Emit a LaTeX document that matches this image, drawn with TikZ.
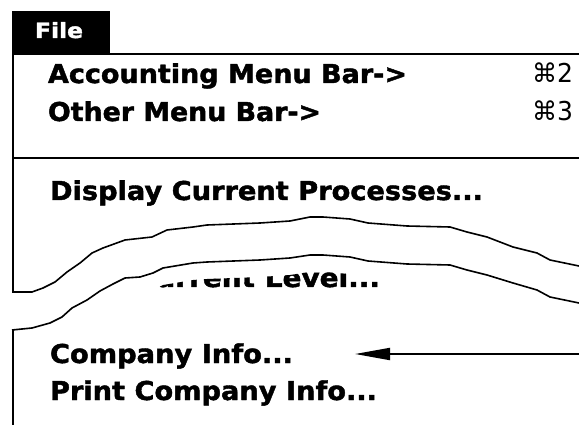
\documentclass[tikz,border=0pt]{standalone}
\usepackage{fontspec}
\usepackage{graphicx}
\setmainfont{DejaVu Sans}
\newfontfamily\menufont{DejaVu Sans Bold}[FakeBold=1.6]
\usetikzlibrary{arrows.meta}

% menu item text, set to a given width on its baseline
\newcommand\menuitem[2]{\resizebox{#1pt}{\height}{\fontsize{26}{26}\menufont #2}}
\newcommand\keyitem[2]{\resizebox{#1pt}{\height}{\fontsize{26}{26}\selectfont #2}}

\begin{document}
\begin{tikzpicture}[x=1pt,y=-1pt,
  item/.style={anchor=base west,inner sep=0pt,outer sep=0pt},
  rule/.style={line width=2pt},
  tear/.style={line width=1.6pt,line join=round}]
\useasboundingbox (0,0) rectangle (579,425);

% title tab
\fill (12,11) rectangle (110,54);
\node[item,text=white] (file) at (35,38)
  {\resizebox{48pt}{\height}{\fontsize{21}{21}\menufont File}};

% menu frame and separator
\draw[rule] (12,54) -- (579,54);
\draw[rule] (13,54) -- (13,293);
\draw[rule] (13,329) -- (13,425);
\draw[rule] (14,158) -- (579,158);

% items
\node[item] (acct) at (48,83) {\menuitem{359}{Accounting Menu Bar->}};
\node[item] (acctkey) at (532,83) {\keyitem{41}{⌘2}};
\node[item] (other) at (48,121) {\menuitem{273}{Other Menu Bar->}};
\node[item] (otherkey) at (532,121) {\keyitem{41}{⌘3}};
\node[item] (display) at (50,200) {\menuitem{433}{Display Current Processes...}};

% item partly hidden below the tear
\begin{scope}
  \clip (13,347) -- (32,345) -- (50,340) -- (62,334) -- (72,325) -- (87,317)
    -- (100,308) -- (113,301) -- (125,295) -- (140,294) -- (153,290) -- (163,285)
    -- (193,280) -- (207,279) -- (260,277) -- (290,275) -- (310,272) -- (323,272)
    -- (350,274) -- (368,278) -- (407,281) -- (450,282) -- (467,287) -- (487,292)
    -- (513,300) -- (537,307) -- (550,314) -- (579,320) -- (579,425) -- (13,425) -- cycle;
  \node[item] (level) at (135,287) {\menuitem{245}{Current Level...}};
\end{scope}

\node[item] (company) at (50,363) {\menuitem{243}{Company Info...}};
\node[item] (print) at (50,400) {\menuitem{327}{Print Company Info...}};

% torn edges
\draw[tear] (12,292) -- (32,292) -- (43,288) -- (55,282) -- (67,272) -- (80,263)
  -- (92,253) -- (103,248) -- (125,240) -- (152,237) -- (167,230) -- (193,227)
  -- (207,225) -- (260,223) -- (290,221) -- (310,217) -- (323,217) -- (350,219)
  -- (368,223) -- (407,226) -- (450,227) -- (467,232) -- (487,237) -- (513,247)
  -- (537,253) -- (550,260) -- (579,266);
\draw[tear] (12,330) -- (32,328) -- (50,323) -- (62,317) -- (72,308) -- (87,300)
  -- (100,291) -- (113,284) -- (125,278) -- (140,277) -- (153,273) -- (163,268)
  -- (193,263) -- (207,262) -- (260,260) -- (290,258) -- (310,255) -- (323,255)
  -- (350,257) -- (368,261) -- (407,264) -- (450,265) -- (467,270) -- (487,275)
  -- (513,283) -- (537,290) -- (550,297) -- (579,303);

% pointer
\coordinate (ptrtail) at (579,354);
\coordinate (ptrtip) at (355,354);
\draw[line width=2pt,-{Triangle[length=35pt,width=12pt]}] (ptrtail) -- (ptrtip);
\end{tikzpicture}
\end{document}
